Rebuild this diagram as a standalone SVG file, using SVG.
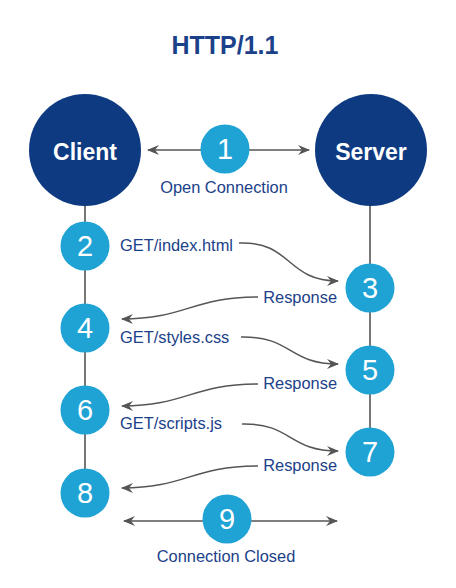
<svg xmlns="http://www.w3.org/2000/svg" width="456" height="588" viewBox="0 0 456 588">
<style>
.t{font-family:"Liberation Sans",Arial,sans-serif;fill:#1b418a;font-size:16.4px}
.big{fill:#0e3a82}
.sm{fill:#1fa3d5}
.bt{font-family:"Liberation Sans",Arial,sans-serif;fill:#fff;font-size:23px;font-weight:bold;text-anchor:middle}
.num{font-family:"Liberation Sans",Arial,sans-serif;fill:#fff;font-size:29px;text-anchor:middle}
.ln{stroke:#777;stroke-width:2;fill:none}
.ar{stroke:#555;stroke-width:1.5;fill:none;marker-end:url(#ah)}
.ar2{stroke:#555;stroke-width:1.5;fill:none;marker-end:url(#ah);marker-start:url(#ahs)}
</style>
<defs>
<marker id="ah" viewBox="0 0 12 10" refX="11" refY="5" markerWidth="12" markerHeight="10" markerUnits="userSpaceOnUse" orient="auto">
<path d="M0,0 L12,5 L0,10 L4,5 Z" fill="#555"/>
</marker>
<marker id="ahs" viewBox="0 0 12 10" refX="11" refY="5" markerWidth="12" markerHeight="10" markerUnits="userSpaceOnUse" orient="auto-start-reverse">
<path d="M0,0 L12,5 L0,10 L4,5 Z" fill="#555"/>
</marker>
</defs>
<text x="225" y="54" font-family="Liberation Sans,Arial,sans-serif" font-size="25" font-weight="bold" fill="#1b418a" text-anchor="middle">HTTP/1.1</text>
<g id="connectors">
<line class="ln" x1="85" y1="200" x2="85" y2="490"/>
<line class="ln" x1="370" y1="200" x2="370" y2="450"/>
<line class="ar2" x1="148" y1="150" x2="309" y2="150"/>
<path class="ar" d="M239,243 C292,241 286,281 338,281"/>
<path class="ar" d="M258,297 C192,297 186,319 122,319"/>
<path class="ar" d="M241,337 C292,336 288,364 338,364"/>
<path class="ar" d="M258,384 C192,384 186,406 122,406"/>
<path class="ar" d="M242,424 C292,423 288,451 338,451"/>
<path class="ar" d="M258,466 C192,466 186,488 122,488"/>
<line class="ar2" x1="124" y1="521" x2="337" y2="521"/>
</g>
<g id="client"><circle class="big" cx="85" cy="150" r="56"/><text class="bt" x="85" y="160">Client</text></g>
<g id="server"><circle class="big" cx="371" cy="150" r="56"/><text class="bt" x="371" y="160">Server</text></g>
<g id="n1"><circle class="sm" cx="225" cy="149" r="24.5"/><text class="num" x="225" y="159">1</text></g>
<text class="t" x="224" y="193" text-anchor="middle">Open Connection</text>
<g id="n2"><circle class="sm" cx="85" cy="246" r="24.5"/><text class="num" x="85" y="256">2</text></g>
<text class="t" x="120" y="251">GET/index.html</text>
<g id="n3"><circle class="sm" cx="370" cy="288" r="24.5"/><text class="num" x="370" y="298">3</text></g>
<text class="t" x="337" y="303" text-anchor="end">Response</text>
<g id="n4"><circle class="sm" cx="85" cy="328" r="24.5"/><text class="num" x="85" y="338">4</text></g>
<text class="t" x="120" y="343">GET/styles.css</text>
<g id="n5"><circle class="sm" cx="370" cy="370" r="24.5"/><text class="num" x="370" y="380">5</text></g>
<text class="t" x="337" y="389" text-anchor="end">Response</text>
<g id="n6"><circle class="sm" cx="85" cy="410" r="24.5"/><text class="num" x="85" y="420">6</text></g>
<text class="t" x="120" y="429">GET/scripts.js</text>
<g id="n7"><circle class="sm" cx="370" cy="452" r="24.5"/><text class="num" x="370" y="462">7</text></g>
<text class="t" x="337" y="471" text-anchor="end">Response</text>
<g id="n8"><circle class="sm" cx="85" cy="493" r="24.5"/><text class="num" x="85" y="503">8</text></g>
<g id="n9"><circle class="sm" cx="227" cy="519" r="24.5"/><text class="num" x="227" y="529">9</text></g>
<text class="t" x="226" y="562" text-anchor="middle">Connection Closed</text>
</svg>
